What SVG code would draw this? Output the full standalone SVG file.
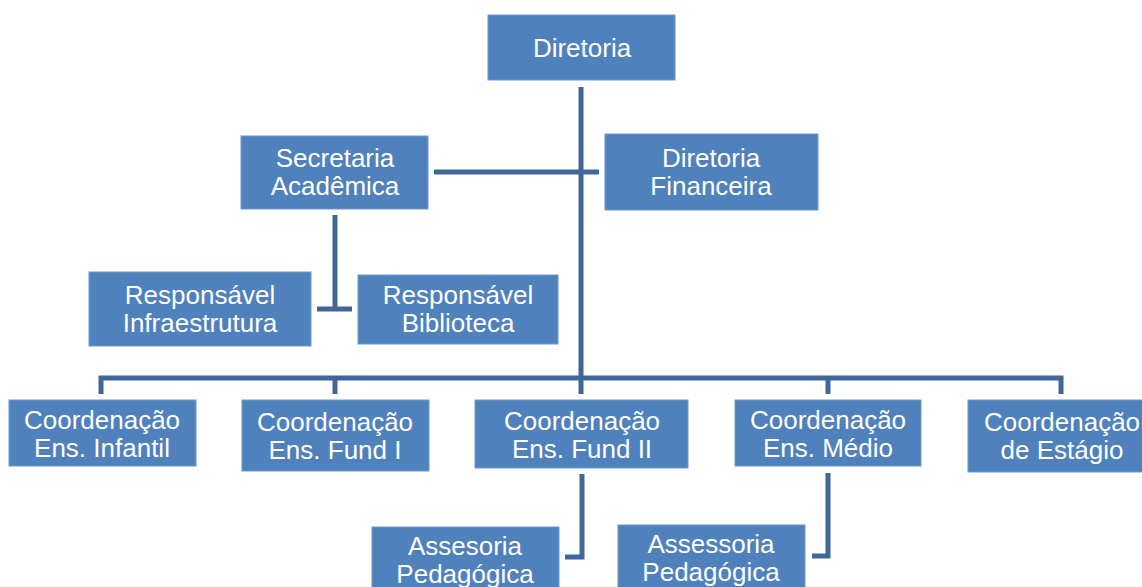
<svg xmlns="http://www.w3.org/2000/svg" width="1142" height="587" viewBox="0 0 1142 587">
<style>
.box{fill:#4F81BD;stroke:#6F97CB;stroke-width:1}
.t{font-family:"Liberation Sans",Arial,sans-serif;font-size:26px;fill:#FFFFFF;text-anchor:middle}
.c{fill:none;stroke:#41679A;stroke-width:5;stroke-linejoin:miter;stroke-linecap:butt}
</style>
<rect width="1142" height="587" fill="#FFFFFF"/>
<g id="connectors">
<line class="c" x1="581" y1="87" x2="581" y2="394"/>
<line class="c" x1="434" y1="172" x2="599" y2="172"/>
<line class="c" x1="335" y1="215" x2="335" y2="309"/>
<line class="c" x1="317" y1="309" x2="352" y2="309"/>
<polyline class="c" points="101,394 101,378 1061,378 1061,394"/>
<line class="c" x1="335" y1="378" x2="335" y2="394"/>
<line class="c" x1="828" y1="378" x2="828" y2="394"/>
<polyline class="c" points="582,474 582,557 565,557"/>
<polyline class="c" points="828,473 828,556 812,556"/>
</g>
<g id="diretoria"><rect class="box" x="488" y="15" width="187" height="65"/><text class="t" x="582" y="57">Diretoria</text></g>
<g id="secretaria"><rect class="box" x="241" y="136" width="187" height="73"/><text class="t" x="335" y="167">Secretaria</text><text class="t" x="335" y="195">Acadêmica</text></g>
<g id="financeira"><rect class="box" x="605" y="134" width="213" height="76"/><text class="t" x="711" y="167">Diretoria</text><text class="t" x="711" y="195">Financeira</text></g>
<g id="infra"><rect class="box" x="89" y="272" width="222" height="74"/><text class="t" x="200" y="304">Responsável</text><text class="t" x="200" y="332">Infraestrutura</text></g>
<g id="biblioteca"><rect class="box" x="358" y="275" width="200" height="69"/><text class="t" x="458" y="304">Responsável</text><text class="t" x="458" y="332">Biblioteca</text></g>
<g id="infantil"><rect class="box" x="9" y="400" width="187" height="66"/><text class="t" x="102" y="429">Coordenação</text><text class="t" x="102" y="457">Ens. Infantil</text></g>
<g id="fund1"><rect class="box" x="242" y="400" width="187" height="71"/><text class="t" x="335" y="431">Coordenação</text><text class="t" x="335" y="459">Ens. Fund I</text></g>
<g id="fund2"><rect class="box" x="475" y="400" width="213" height="68"/><text class="t" x="582" y="430">Coordenação</text><text class="t" x="582" y="458">Ens. Fund II</text></g>
<g id="medio"><rect class="box" x="735" y="400" width="186" height="66"/><text class="t" x="828" y="429">Coordenação</text><text class="t" x="828" y="457">Ens. Médio</text></g>
<g id="estagio"><rect class="box" x="968" y="400" width="190" height="72"/><text class="t" x="1062" y="431">Coordenação</text><text class="t" x="1062" y="459">de Estágio</text></g>
<g id="assessoria1"><rect class="box" x="372" y="527" width="187" height="70"/><text class="t" x="465" y="555">Assesoria</text><text class="t" x="465" y="583">Pedagógica</text></g>
<g id="assessoria2"><rect class="box" x="618" y="525" width="187" height="72"/><text class="t" x="711" y="553">Assessoria</text><text class="t" x="711" y="581">Pedagógica</text></g>
</svg>
